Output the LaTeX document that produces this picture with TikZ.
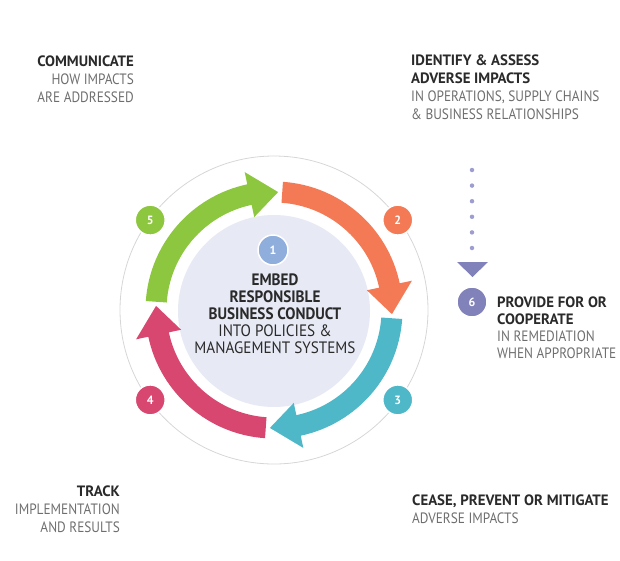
\documentclass[tikz,border=0pt]{standalone}
\usepackage{fontspec}
\setmainfont{PT Sans}[UprightFeatures={FakeStretch=0.885}, BoldFeatures={FakeStretch=0.99}]
\newfontfamily\centrefont{PT Sans}[FakeStretch=0.92]
\usetikzlibrary{positioning}

\definecolor{stepgreen}{HTML}{8DC63F}
\definecolor{steporange}{HTML}{F37A55}
\definecolor{stepcyan}{HTML}{4FB8C8}
\definecolor{steppink}{HTML}{D8476F}
\definecolor{stepblue}{HTML}{8FAEDC}
\definecolor{steppurple}{HTML}{8182BA}
\definecolor{dotpurple}{HTML}{9D9ECF}
\definecolor{discfill}{HTML}{E7E9F5}
\definecolor{ringgrey}{HTML}{D6D6D6}
\definecolor{titlegrey}{HTML}{2A2A2A}
\definecolor{bodygrey}{HTML}{6E6E6E}

\newcommand{\ttl}[1]{{\bfseries\color{titlegrey}#1}}

\tikzset{
  badge/.style={circle, fill=#1, draw=white, line width=1.5pt, minimum size=30pt,
    inner sep=0pt, text=white, font=\fontsize{12}{12}\selectfont\bfseries},
  blurb/.style={text=bodygrey, font=\fontsize{15}{18}\selectfont, inner sep=0pt},
}

\begin{document}
\begin{tikzpicture}[x=1pt, y=1pt]
\useasboundingbox (0,0) rectangle (620,-560);

% outer ring and centre disc
\node[circle, draw=ringgrey, line width=0.8pt, minimum size=308pt] (ring) at (274,-310) {};
\node[circle, fill=discfill, minimum size=192pt] (disc) at (274,-311) {};

% the four cycle arrows
\begin{scope}[shift={(274,-310)}]
\fill[stepgreen] (176:107.5) arc[start angle=176, end angle=102, radius=107.5]
  -- (102:95) -- (88:118) -- (102:141) -- (102:128.5)
  arc[start angle=102, end angle=176, radius=128.5] -- cycle;
\fill[steporange] (86:107.5) arc[start angle=86, end angle=12, radius=107.5]
  -- (12:95) -- (-2:118) -- (12:141) -- (12:128.5)
  arc[start angle=12, end angle=86, radius=128.5] -- cycle;
\fill[stepcyan] (-4:107.5) arc[start angle=-4, end angle=-78, radius=107.5]
  -- (-78:95) -- (-92:118) -- (-78:141) -- (-78:128.5)
  arc[start angle=-78, end angle=-4, radius=128.5] -- cycle;
\fill[steppink] (-94:107.5) arc[start angle=-94, end angle=-168, radius=107.5]
  -- (-168:95) -- (-182:118) -- (-168:141) -- (-168:128.5)
  arc[start angle=-168, end angle=-94, radius=128.5] -- cycle;

\node[badge=stepgreen] (five) at (144:153) {5};
\node[badge=steporange] (two) at (36:153) {2};
\node[badge=stepcyan] (three) at (-36:153) {3};
\node[badge=steppink] (four) at (-144:153) {4};
\end{scope}

\node[badge=stepblue] (one) at (273,-250) {1};
\node[blurb, text=titlegrey, font=\centrefont\fontsize{16.5}{17}\selectfont, align=center, anchor=base]
  (embed) at (275,-353)
  {\ttl{EMBED}\\ \ttl{RESPONSIBLE}\\ \ttl{BUSINESS CONDUCT}\\ INTO POLICIES \&\\ MANAGEMENT SYSTEMS};

% remediation branch
\coordinate (dottop) at (472,-170);
\coordinate (dotend) at (472,-249);
\coordinate (tritop) at (472.5,-262);
\draw[dotpurple, line width=4.5pt, line cap=round, dash pattern=on 0pt off 15.6pt]
  (dottop) -- (dotend);
\fill[steppurple] (tritop) ++(-15.5,0) -- ++(31,0) -- ++(-15.5,-15) -- cycle;
\node[badge=steppurple] (six) at (472,-302) {6};

% step captions
\node[blurb, align=right, anchor=base east] (communicate) at (134,-102)
  {\ttl{COMMUNICATE}\\ HOW IMPACTS\\ ARE ADDRESSED};
\node[blurb, align=left, anchor=base west] (identify) at (411,-119)
  {\ttl{IDENTIFY \& ASSESS}\\ \ttl{ADVERSE IMPACTS}\\ IN OPERATIONS, SUPPLY CHAINS\\ \& BUSINESS RELATIONSHIPS};
\node[blurb, font=\fontsize{15}{17}\selectfont, align=left, anchor=base west] (provide) at (497,-358)
  {\ttl{PROVIDE FOR OR}\\ \ttl{COOPERATE}\\ IN REMEDIATION\\ WHEN APPROPRIATE};
\node[blurb, align=right, anchor=base east] (track) at (120,-532)
  {\ttl{TRACK}\\ IMPLEMENTATION\\ AND RESULTS};
\node[blurb, align=left, anchor=base west] (cease) at (412,-523)
  {\ttl{CEASE, PREVENT OR MITIGATE}\\ ADVERSE IMPACTS};

\end{tikzpicture}
\end{document}
